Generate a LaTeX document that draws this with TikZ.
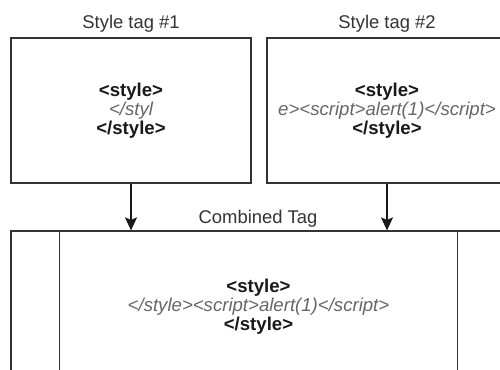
\documentclass[tikz,border=0pt]{standalone}
\usepackage{fontspec}
\setmainfont{Liberation Sans}
\usetikzlibrary{arrows.meta,calc}
\begin{document}
\begin{tikzpicture}[x=1pt,y=-1pt,
  box/.style={draw=black!80, line width=1.2pt, rectangle, inner sep=0pt, align=center,
    font=\fontsize{18.6}{19}\selectfont, text=black!90},
  title/.style={anchor=base, font=\fontsize{18.4}{20}\selectfont, text=black!80, inner sep=0pt},
  sepline/.style={draw=black!80, line width=1.2pt},
  arr/.style={draw=black!90, line width=1.2pt, -{Stealth[width=12pt,length=13pt,inset=2.5pt]}}]
\useasboundingbox (0,0) rectangle (500,369);
\clip (0,0) rectangle (500,369);
\fill[white] (0,0) rectangle (500,369);

\node[box, minimum width=240pt, minimum height=145pt] (b1) at (131,110.5)
  {\textbf{<style>}\\ \textcolor{black!60}{\itshape </styl}\\ \textbf{</style>}};
\node[box, minimum width=240pt, minimum height=145pt] (b2) at (387,110.5)
  {\textbf{<style>}\\ \textcolor{black!60}{\itshape e><script>alert(1)</script>}\\ \textbf{</style>}};
\node[box, minimum width=495pt, minimum height=152pt] (comb) at (258.5,307)
  {\textbf{<style>}\\ \textcolor{black!60}{\itshape </style><script>alert(1)</script>}\\ \textbf{</style>}};
\draw[sepline] ($(comb.north west)+(49,0)$) -- ($(comb.south west)+(49,0)$);
\draw[sepline] ($(comb.north east)+(-49,0)$) -- ($(comb.south east)+(-49,0)$);

\node[title] (t1) at (131,29) {Style tag \#1};
\node[title] (t2) at (387,29) {Style tag \#2};
\node[title] (t3) at (258,223) {Combined Tag};

\draw[arr] (b1.south) -- (b1.south |- comb.north);
\draw[arr] (b2.south) -- (b2.south |- comb.north);
\end{tikzpicture}
\end{document}
